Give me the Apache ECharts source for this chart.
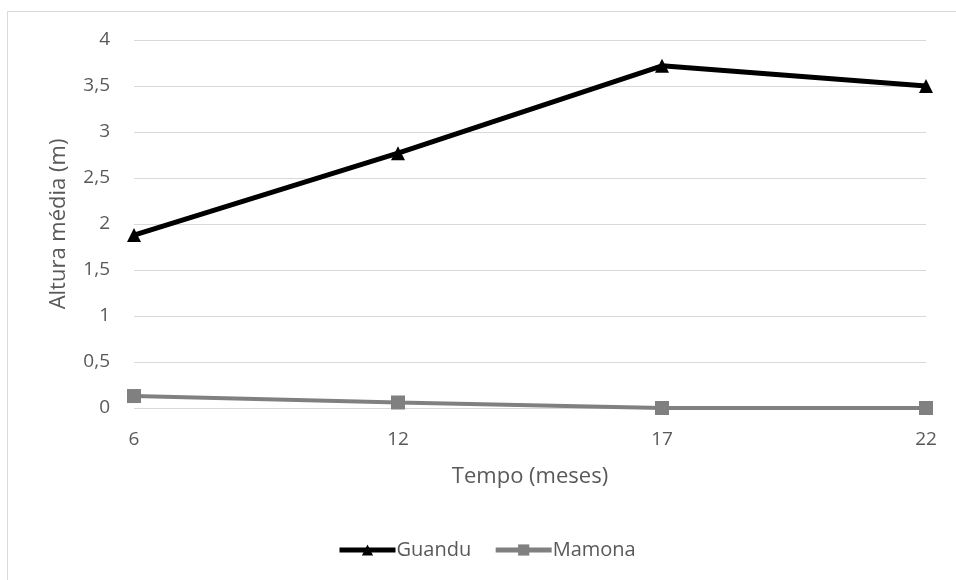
<!DOCTYPE html>
<html>
<head>
<meta charset="utf-8">
<script src="https://cdn.jsdelivr.net/npm/echarts@6/dist/echarts.min.js"></script>
<style>
  html, body { margin: 0; padding: 0; background: #fff; }
  #chart { width: 956px; height: 580px; }
</style>
</head>
<body>
<div id="chart"></div>
<script>
// Months after planting
const meses = ['6', '12', '17', '22'];
// Mean plant height (m)
const guandu = [1.88, 2.77, 3.72, 3.50];
const mamona = [0.13, 0.06, 0.0, 0.0];

const yTicks = { min: 0, max: 4, interval: 0.5 };

const FONT = 'Open Sans';
const TEXT = '#595959';

const chart = echarts.init(document.getElementById('chart'));

chart.setOption({
  animation: false,
  backgroundColor: '#fff',
  textStyle: { fontFamily: FONT, color: TEXT },
  graphic: [{
    type: 'rect',
    shape: { x: 7.5, y: 11.5, width: 1000, height: 1000 },
    style: { fill: 'none', stroke: '#d9d9d9', lineWidth: 1 },
    silent: true,
    z: -1
  }],
  grid: { left: 134, right: 30, top: 40, bottom: 172, containLabel: false },
  xAxis: {
    type: 'category',
    data: meses,
    boundaryGap: false,
    name: 'Tempo (meses)',
    nameLocation: 'middle',
    nameGap: 58,
    nameTextStyle: { fontFamily: FONT, fontSize: 22, color: TEXT },
    axisLine: { show: false },
    axisTick: { show: false },
    axisLabel: { fontFamily: FONT, fontSize: 19, color: TEXT, margin: 22 },
    splitLine: { show: false }
  },
  yAxis: {
    type: 'value',
    min: yTicks.min,
    max: yTicks.max,
    interval: yTicks.interval,
    name: 'Altura média (m)',
    nameLocation: 'middle',
    nameGap: 64,
    nameRotate: 90,
    nameTextStyle: { fontFamily: FONT, fontSize: 22, color: TEXT },
    axisLine: { show: false },
    axisTick: { show: false },
    axisLabel: {
      fontFamily: FONT, fontSize: 19, color: TEXT, margin: 24,
      formatter: v => String(v).replace('.', ',')
    },
    splitLine: { lineStyle: { color: '#d9d9d9', width: 1 } }
  },
  legend: {
    top: 535,
    left: 332,
    itemWidth: 56,
    itemHeight: 14,
    itemGap: 22,
    textStyle: { fontFamily: FONT, fontSize: 20, color: TEXT, padding: [0, 0, 0, -4] },
    data: [
      { name: 'Guandu', lineStyle: { width: 5, color: '#000' } },
      { name: 'Mamona', lineStyle: { width: 5, color: '#808080' } }
    ]
  },
  series: [
    {
      name: 'Guandu',
      type: 'line',
      data: guandu,
      symbol: 'triangle',
      symbolSize: 14,
      itemStyle: { color: '#000' },
      lineStyle: { color: '#000', width: 5 }
    },
    {
      name: 'Mamona',
      type: 'line',
      data: mamona,
      symbol: 'rect',
      symbolSize: 14,
      itemStyle: { color: '#808080' },
      lineStyle: { color: '#808080', width: 4 }
    }
  ]
});
</script>
</body>
</html>
